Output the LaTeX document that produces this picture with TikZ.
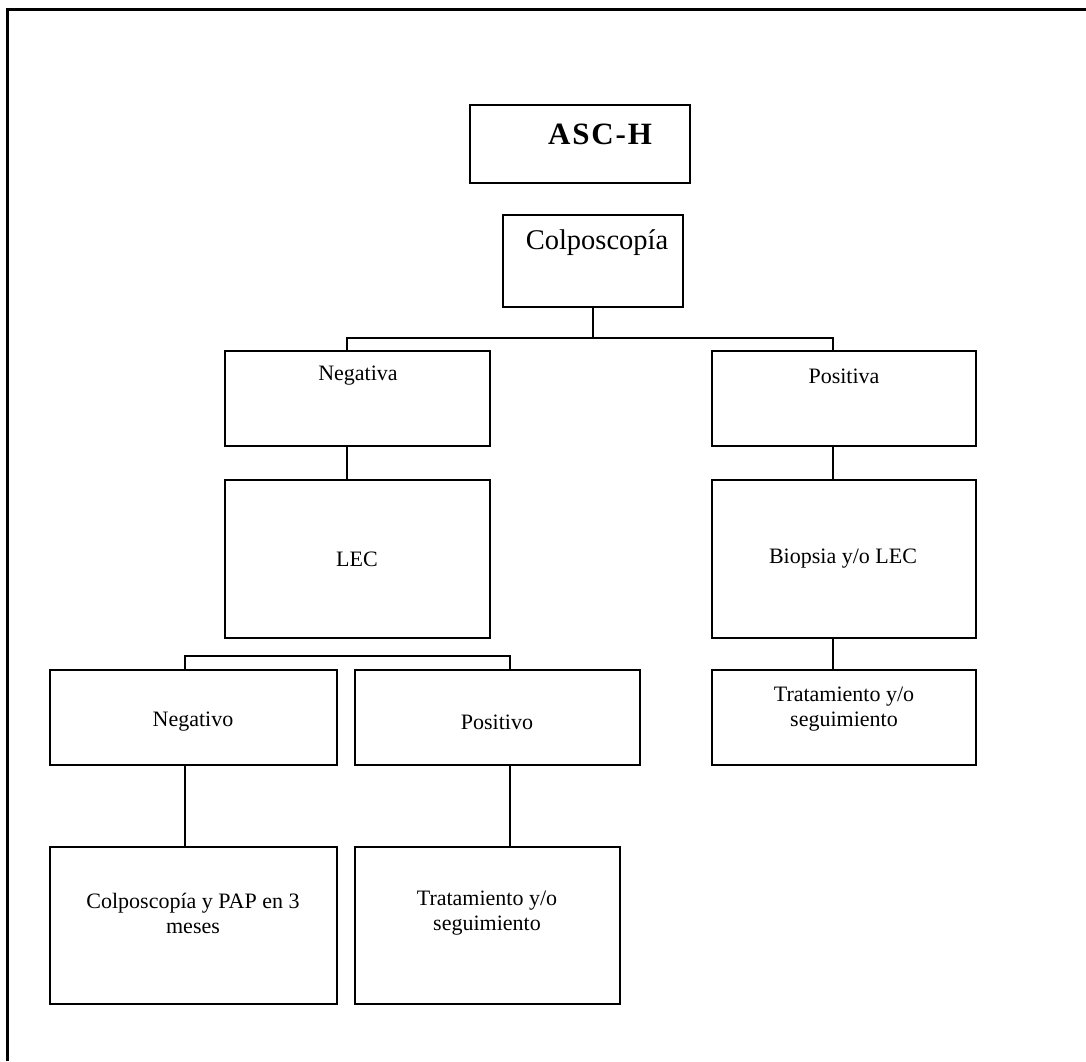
\documentclass[tikz,border=0pt]{standalone}
\usepackage{fontspec}
\setmainfont{Liberation Serif}
\begin{document}
\begin{tikzpicture}[x=1pt,y=-1pt,
  box/.style={draw, line width=1.8pt, inner sep=0pt, outer sep=0pt},
  lbl/.style={font=\fontsize{22}{25}\selectfont, align=center, inner sep=0pt},
  link/.style={line width=1.4pt},
  framerule/.style={line width=3pt}]
\useasboundingbox (0,0) rectangle (1086,1061);

% box from its corners: name, left, top, right, bottom
\newcommand\flowbox[5]{%
  \node[box, minimum width={#4-#2}, minimum height={#5-#3}] (#1)
    at ({(#2+#4)/2},{(#3+#5)/2}) {};}

% page frame (top and left edges)
\draw[framerule] (7.5,1061) -- (7.5,9.5) -- (1086,9.5);

% boxes
\flowbox{asch}{470}{105}{690}{183}
\flowbox{colp}{503}{215}{683}{307}
\flowbox{neg}{225}{351}{490}{446}
\flowbox{pos}{712}{351}{976}{446}
\flowbox{lec}{225}{480}{490}{638}
\flowbox{biop}{712}{480}{976}{638}
\flowbox{negvo}{50}{670}{337}{765}
\flowbox{posvo}{355}{670}{640}{765}
\flowbox{tratA}{712}{670}{976}{765}
\flowbox{colpap}{50}{847}{337}{1004}
\flowbox{tratB}{355}{847}{620}{1004}

% texts
\node[lbl, font=\fontsize{31}{33}\selectfont\bfseries\addfontfeature{LetterSpace=6}] (t-asch) at (600,134) {ASC-H};
\node[lbl, font=\fontsize{28.5}{30}\selectfont] (t-colp) at (597,243) {Colposcopía};
\node[lbl] (t-neg) at (358,376) {Negativa};
\node[lbl] (t-pos) at (844,376) {Positiva};
\node[lbl] (t-lec) at (357,559) {LEC};
\node[lbl] (t-biop) at (843,559) {Biopsia y/o LEC};
\node[lbl] (t-negvo) at (193,722) {Negativo};
\node[lbl] (t-posvo) at (497,722) {Positivo};
\node[lbl] (t-tratA) at (844,709) {Tratamiento y/o\\seguimiento};
\node[lbl] (t-colpap) at (193,913) {Colposcopía y PAP en 3\\meses};
\node[lbl] (t-tratB) at (487,913) {Tratamiento y/o\\seguimiento};

% connectors
\draw[link] (colp.south) -- ++(0,31) coordinate (split1);
\draw[link] ([xshift=-10.5pt]neg.north) |- (split1) -| ([xshift=-11pt]pos.north);
\draw[link] ([xshift=-10.5pt]neg.south) -- ([xshift=-10.5pt]neg.south |- lec.north);
\draw[link] ([xshift=-11pt]pos.south) -- ([xshift=-11pt]pos.south |- biop.north);
\draw[link] ([xshift=-11pt]biop.south) -- ([xshift=-11pt]biop.south |- tratA.north);
\draw[link] ([xshift=-8.5pt]negvo.north) -- ++(0,-14) -| ([xshift=12.5pt]posvo.north);
\draw[link] ([xshift=-8.5pt]negvo.south) -- ([xshift=-8.5pt]negvo.south |- colpap.north);
\draw[link] ([xshift=12.5pt]posvo.south) -- ([xshift=12.5pt]posvo.south |- tratB.north);
\end{tikzpicture}
\end{document}
